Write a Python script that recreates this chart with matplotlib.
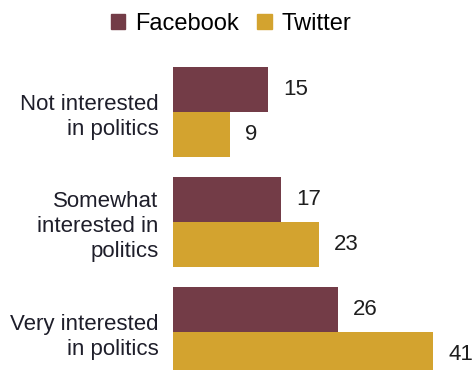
import numpy as np
import matplotlib
matplotlib.use('Agg')
import matplotlib.pyplot as plt
from matplotlib.patches import Patch

categories = ['Not interested\nin politics', 'Somewhat\ninterested in\npolitics', 'Very interested\nin politics']
facebook = [15, 17, 26]
twitter = [9, 23, 41]
series_names = ['Facebook', 'Twitter']
fb_color = '#733c47'
tw_color = '#d3a32f'

plt.rcParams['font.family'] = ['Liberation Sans', 'DejaVu Sans']

fig = plt.figure(figsize=(4.77, 3.70), dpi=100)
ax = fig.add_axes([173/477, 0, 304/477, 1 - 60/370])

y = np.arange(len(categories))
h = 0.41
ax.barh(y - h/2, facebook, height=h, color=fb_color)
ax.barh(y + h/2, twitter, height=h, color=tw_color)

for i in range(len(categories)):
    ax.annotate(str(facebook[i]), (facebook[i], y[i] - h/2), xytext=(11, 0), textcoords='offset points',
                va='center', ha='left', fontsize=16, color='#1e1e1e')
    ax.annotate(str(twitter[i]), (twitter[i], y[i] + h/2), xytext=(11, 0), textcoords='offset points',
                va='center', ha='left', fontsize=16, color='#1e1e1e')

ax.set_xlim(0, 304/6.34)
ax.set_ylim(2.345, -0.473)
ax.set_yticks(y)
ax.set_yticklabels(categories, fontsize=16, color='#1e1e2a', linespacing=1.25)
ax.tick_params(axis='y', length=0, pad=10.5)
ax.set_xticks([])
for s in ax.spines.values():
    s.set_visible(False)

handles = [Patch(color=fb_color), Patch(color=tw_color)]
fig.legend(handles, series_names, loc='center', bbox_to_anchor=(231/477, 1 - 24/370), ncol=2,
           frameon=False, fontsize=17, handlelength=0.6, handleheight=0.6, handletextpad=0.4,
           columnspacing=0.8, borderpad=0)

fig.savefig('out.png', dpi=100)
